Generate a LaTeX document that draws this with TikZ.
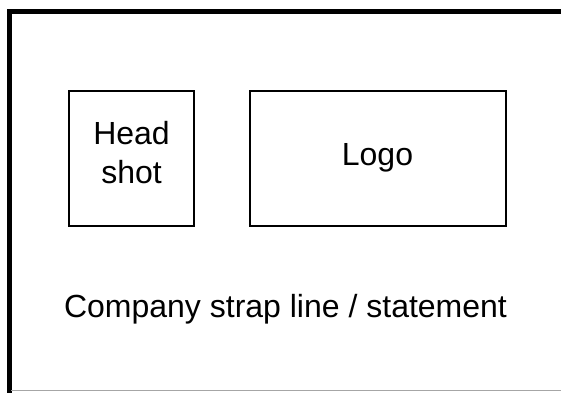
\documentclass[tikz,border=0pt]{standalone}
\usepackage{fontspec}
\setmainfont{Liberation Sans}
\begin{document}
\begin{tikzpicture}[x=1pt,y=-1pt,
  box/.style={draw=black,line width=2pt,inner sep=0pt},
  label/.style={inner sep=0pt,font=\fontsize{32}{38.3}\selectfont,align=center}]
\useasboundingbox (0,0) rectangle (561,392);
\fill[white] (0,0) rectangle (561,392);
\draw[line width=5pt] (9,400) -- (9,11.5) -- (570,11.5);
\draw[gray!70,line width=1pt] (11,390) -- (561,390);
\node[box,minimum width=125pt,minimum height=135pt] (head) at (131.5,158.5) {};
\node[box,minimum width=256pt,minimum height=135pt] (logo) at (377.5,158.5) {};
\node[label,yshift=6pt] (headtxt) at (head.center) {Head\\shot};
\node[label,anchor=base] (logotxt) at (377.5,165) {Logo};
\node[label,anchor=base] (strap) at (285.5,317) {Company strap line / statement};
\end{tikzpicture}
\end{document}
